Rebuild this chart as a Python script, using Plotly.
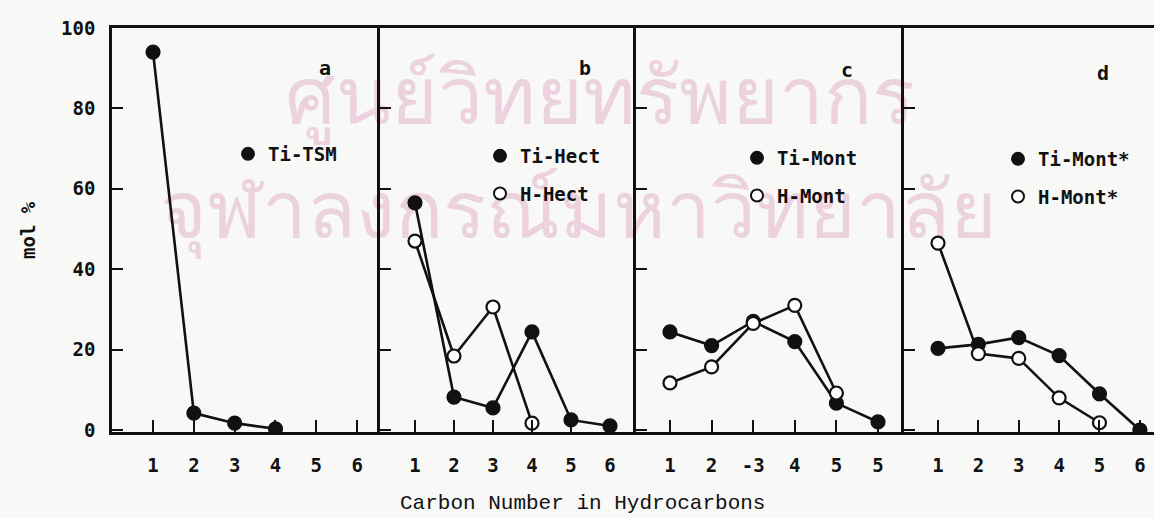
import plotly.graph_objects as go

# Carbon number (C1..C6) and product distribution in mol %
carbon = [1, 2, 3, 4, 5, 6]
tick_labels_a = ["1", "2", "3", "4", "5", "6"]
tick_labels_b = ["1", "2", "3", "4", "5", "6"]
tick_labels_c = ["1", "2", "-3", "4", "5", "5"]
tick_labels_d = ["1", "2", "3", "4", "5", "6"]
y_ticks = [0, 20, 40, 60, 80, 100]

ti_tsm = [94, 4.2, 1.7, 0.3]
ti_hect = [56.5, 8.2, 5.5, 24.4, 2.5, 1.0]
h_hect = [47, 18.4, 30.6, 1.7]
ti_mont = [24.4, 21, 27, 22, 6.7, 2]
h_mont = [11.7, 15.7, 26.5, 31, 9.2]
ti_mont_star = [20.3, 21.3, 23, 18.5, 9, 0]
h_mont_star = [46.5, 19, 17.8, 8, 1.8]

panel_letters = ["a", "b", "c", "d"]

W, H = 1154, 518
ML, MT, MB = 112, 28, 86
PW = W - ML
PH = H - MT - MB

# panel edges in pixels and x ranges (one panel per catalyst)
edges = [112, 380, 636, 904, 1154]
x_ranges = [[-0.005, 6.56], [0.103, 6.667], [0.183, 6.625], [0.158, 6.35]]
tick_sets = [tick_labels_a, tick_labels_b, tick_labels_c, tick_labels_d]

INK = "#111111"
BG = "#f8f8f6"
TICK_FONT = dict(family="DejaVu Sans Mono", size=19, color=INK, weight="bold")
LEG_FONT = dict(family="DejaVu Sans Mono", size=19, color=INK, weight="bold")


def px_x(x):
    return (x - ML) / PW


def px_y(y):
    return (H - MB - y) / PH


fig = go.Figure()

series = [
    # (panel, name, values, filled)
    (0, "Ti-TSM", ti_tsm, True),
    (1, "Ti-Hect", ti_hect, True),
    (1, "H-Hect", h_hect, False),
    (2, "Ti-Mont", ti_mont, True),
    (2, "H-Mont", h_mont, False),
    (3, "Ti-Mont*", ti_mont_star, True),
    (3, "H-Mont*", h_mont_star, False),
]

legend_names = ["legend", "legend2", "legend3", "legend4"]

# empty traces that bring the tick-mark overlay axes to life
for p in range(4):
    ax = "" if p == 0 else str(p + 1)
    fig.add_trace(go.Scatter(
        x=carbon, y=[None] * len(carbon), mode="lines",
        xaxis="x" + str(p + 5), yaxis="y" + ax,
        showlegend=False, hoverinfo="skip",
    ))

# connecting lines first, then the markers on top
for p, name, vals, filled in series:
    ax = "" if p == 0 else str(p + 1)
    fig.add_trace(go.Scatter(
        x=carbon[:len(vals)], y=vals, mode="lines",
        line=dict(color=INK, width=2.6),
        xaxis="x" + ax, yaxis="y" + ax, showlegend=False, hoverinfo="skip",
    ))
for p, name, vals, filled in series:
    ax = "" if p == 0 else str(p + 1)
    fig.add_trace(go.Scatter(
        x=carbon[:len(vals)], y=vals, mode="markers", name=name,
        marker=dict(symbol="circle", size=13,
                    color=INK if filled else "white",
                    line=dict(color=INK, width=2.2)),
        xaxis="x" + ax, yaxis="y" + ax,
        legend=legend_names[p], legendgroup=name,
    ))

layout = dict(
    width=W, height=H,
    margin=dict(l=ML, r=0, t=MT, b=MB, autoexpand=False),
    paper_bgcolor=BG, plot_bgcolor="rgba(0,0,0,0)",
    showlegend=True,
)

for p in range(4):
    ax = "" if p == 0 else str(p + 1)
    dom = [px_x(edges[p]), px_x(edges[p + 1])]
    layout["xaxis" + ax] = dict(
        domain=dom, range=x_ranges[p],
        tickmode="array", tickvals=carbon, ticktext=tick_sets[p],
        ticks="inside", ticklen=9, tickwidth=2, tickcolor=INK,
        ticklabelstandoff=14,
        showline=True, linecolor=INK, linewidth=2.5, mirror=True,
        showgrid=False, zeroline=False, tickfont=TICK_FONT,
        anchor="y" + ax, automargin=False,
    )
    # short tick marks sitting just above the baseline of each panel
    layout["xaxis" + str(p + 5)] = dict(
        domain=dom, range=x_ranges[p], overlaying="x" + ax,
        anchor="free", position=px_y(419), side="bottom",
        tickmode="array", tickvals=carbon,
        ticks="outside", ticklen=5, tickwidth=2, tickcolor=INK,
        showticklabels=False, showline=False,
        showgrid=False, zeroline=False, automargin=False,
    )
    layout["yaxis" + ax] = dict(
        domain=[0, 1], range=[-0.5, 100],
        tickmode="array", tickvals=y_ticks,
        ticks="inside", ticklen=11, tickwidth=2, tickcolor=INK,
        showticklabels=(p == 0), ticklabelstandoff=10,
        showline=True, linecolor=INK, linewidth=2.5,
        showgrid=False, zeroline=False, tickfont=TICK_FONT,
        anchor="x" + ax, automargin=False,
    )

# one small legend inside each panel
legend_pos = [(228, 135), (480, 137), (737, 139), (998, 140)]
for name, (lx, ly) in zip(legend_names, legend_pos):
    layout[name] = dict(
        x=lx / W, y=1 - ly / H, xref="container", yref="container",
        xanchor="left", yanchor="top",
        bgcolor="rgba(0,0,0,0)", borderwidth=0,
        font=LEG_FONT, tracegroupgap=10, itemsizing="constant",
    )

fig.update_layout(**layout)

# panel letters
letter_pos = [(325, 68), (585, 68), (847, 70), (1103, 73)]
for letter, (lx, ly) in zip(panel_letters, letter_pos):
    fig.add_annotation(
        text=letter, x=px_x(lx), y=px_y(ly), xref="paper", yref="paper",
        xanchor="center", yanchor="middle",
        showarrow=False, font=dict(family="DejaVu Sans Mono", size=20,
                                   color=INK, weight="bold"),
    )

# axis titles as free text
fig.add_annotation(
    text="Carbon Number in Hydrocarbons", x=px_x(582), y=px_y(503),
    xref="paper", yref="paper", showarrow=False,
    xanchor="center", yanchor="middle",
    font=dict(family="Liberation Mono", size=21, color=INK),
)
fig.add_annotation(
    text="mol %", x=px_x(28), y=px_y(230), xref="paper", yref="paper",
    showarrow=False, textangle=-90, xanchor="center", yanchor="middle",
    font=dict(family="DejaVu Sans Mono", size=19, color=INK, weight="bold"),
)

# faint library stamp behind the plot
stamp = [("ศูนย์วิทยทรัพยากร", 600, 98), ("จุฬาลงกรณ์มหาวิทยาลัย", 578, 212)]
for txt, cx, cy in stamp:
    fig.add_shape(
        type="rect", xref="paper", yref="paper", layer="below",
        x0=px_x(cx - 420), x1=px_x(cx + 420),
        y0=px_y(cy + 50), y1=px_y(cy - 50),
        line=dict(width=0), fillcolor="rgba(0,0,0,0)",
        label=dict(text=txt, font=dict(size=80, color="#ecd2df"),
                   textposition="middle center"),
    )

fig.write_html("out.html")
